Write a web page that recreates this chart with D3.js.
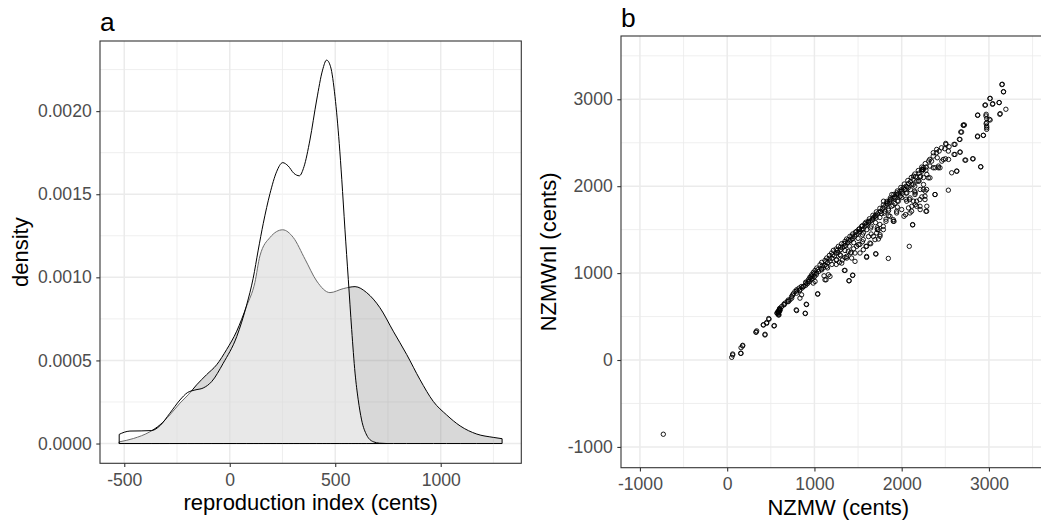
<!DOCTYPE html>
<html><head><meta charset="utf-8">
<script src="https://cdn.jsdelivr.net/npm/d3@7"></script>
<style>
body{margin:0;background:#fff;}
svg{display:block;}
text{font-family:"Liberation Sans",Arial,sans-serif;}
</style>
</head><body>
<svg id="c" width="1041" height="523"></svg>
<script>
// ---- Panel a: two density curves (reproduction index, cents / density) ----
const densityA = [
  [-524,0.000055],[-500,0.000068],[-473,0.000075],[-420,0.000076],[-370,0.000078],
  [-331,0.000107],[-284,0.000182],[-236,0.000262],[-201,0.000306],[-165,0.000322],
  [-126,0.000334],[-86,0.000372],[-31,0.000483],[33,0.000643],[80,0.000833],
  [111,0.000994],[135,0.001164],[159,0.001325],[191,0.001505],[222,0.001635],
  [251,0.00169],[277,0.00167],[304,0.001626],[330,0.001611],[352,0.001666],
  [380,0.001826],[412,0.002067],[440,0.002247],[459,0.002307],[478,0.002267],
  [499,0.002087],[519,0.001806],[531,0.00159],[546,0.00129],[562,0.000988],
  [578,0.000686],[594,0.000424],[609,0.000263],[625,0.000142],[649,0.000051],
  [680,0.000011],[710,0.000002],[744,0]
];
const densityB = [
  [-524,0.00001],[-457,0.00003],[-378,0.000071],[-331,0.000112],[-284,0.000172],
  [-236,0.000243],[-197,0.000293],[-157,0.000353],[-110,0.000414],[-62,0.000474],
  [-15,0.000565],[33,0.000676],[80,0.000827],[119,0.000968],[143,0.001129],
  [191,0.00124],[251,0.001286],[301,0.00124],[357,0.001109],[412,0.000978],
  [475,0.000908],[538,0.000932],[594,0.000944],[649,0.000908],[712,0.000817],
  [775,0.000676],[839,0.000535],[902,0.000384],[965,0.000253],[1028,0.000172],
  [1092,0.000106],[1171,0.000057],[1249,0.000037],[1291,0.000029]
];
const xTicksA = [-500,0,500,1000];
const xMinorA = [-250,250,750,1250];
const yTicksA = [0,0.0005,0.001,0.0015,0.002];
const yTickLabelsA = ["0.0000","0.0005","0.0010","0.0015","0.0020"];
const yMinorA = [0.00025,0.00075,0.00125,0.00175,0.00225];

// ---- Panel b: NZMW vs NZMWnl (cents) ----
const scatterPoints = [
  [-732,-854],
  [52,31],[63,69],[159,77],[159,142],[178,169],[63,58],[154,77],[177,162],
  [331,323],[338,335],[434,296],[415,404],[453,423],[476,477],[541,396],[330,319],[433,288],[414,404],[452,431],[479,469],[536,392],
  [587,519],[599,577],[652,635],[702,673],[740,712],[791,577],[894,538],[906,642],[795,769],[833,808],[872,846],[929,904],
  [986,885],[1038,762],[968,962],[1025,1000],[1083,1038],[1140,1077],[1121,923],[1178,962],
  [1351,1031],[1439,977],[1397,912],[1313,1115],[1370,1173],[1415,1231],[1465,1135],[1522,1231],[1598,1181],[1705,1219],
  [1847,1169],[1598,1308],[1636,1346],[1560,1385],[1503,1327],[1560,1462],[1713,1462],[1751,1423],[1732,1500],[1790,1500],
  [1705,1635],[1904,1596],[1942,1692],[2087,1308],[2125,1554],[2095,1692],[2045,1673],[2171,1769],[2209,1846],[2278,1711],
  [2267,1885],[2382,1904],[2535,1954],[2286,1962],[2324,2096],[2248,2192],[2362,2212],[2439,2212],[2573,2154],[2630,2173],
  [2477,2308],[2535,2404],[2611,2365],[2668,2392],[2507,2481],[2611,2481],[2668,2538],[2706,2700],[2687,2623],[2725,2300],
  [2813,2315],[2905,2223],[2870,2577],[2935,2585],[2870,2815],[2966,2808],[2974,2692],[3004,2769],[2954,2931],[3011,3008],
  [3041,2942],[3117,2962],[3125,2827],[3194,2885],[3148,3169],[3167,3085],[2974,2654],[2974,2731],
  [586,558],[598,577],[575,538],[605,596],[594,519],[624,615],[662,654],[689,673],[719,692],[738,731],[757,762],[777,788],
  [796,808],[823,827],[796,569],[896,535],[910,638],[853,750],[834,712],[903,885],[930,923],[949,954],[968,981],[987,1008],
  [1007,1031],[1026,1058],[1037,758],[1007,904],[1064,1096],[1083,1123],[1110,969],[1133,923],[1160,981],[1121,1146],
  [1140,1173],[1171,1204],[1197,1231],[1217,1262],[1255,1154],[1286,1123],[1343,1031],[1396,912],[1438,973],[1248,1277],
  [1274,1308],[1293,1212],[1312,1338],[1350,1365],[1369,1192],[1369,1392],[1388,1250],[1407,1423],[1426,1173],[1438,1450],
  [1465,1231],[1484,1481],[1484,1308],[1514,1508],[1541,1538],[1560,1269],[1591,1308],[1598,1192],[1645,1338],[1702,1223],
  [1579,1569],[1617,1596],[1645,1519],[1675,1423],[1694,1385],[1667,1623],[1694,1654],[1721,1500],[1752,1442],[1733,1392],
  [1770,1685],[1789,1538],[1808,1712],[1820,1596],[1847,1738],[1866,1654],[1885,1769],[1904,1615],[1912,1596],[1923,1800],
  [1942,1712],[1961,1827],[1981,1885],[2000,1731],[2011,1923],[2026,1654],[2038,1962],[2057,1827],[2076,1981],[2095,1865],
  [2114,1712],[2126,1558],[2133,2019],[2152,1904],[2171,1827],[2191,2058],[2210,1769],[2217,2115],[2229,2192],[2248,1962],
  [2267,1846],[2286,1712],[2278,2185],[2305,2096],[2324,2231],[2343,2288],[2362,2385],[2382,1904],[2401,2423],[2420,2212],[2408,2327],
  [3153,3173],[3167,3088],[3014,3011],[2960,2935],[3044,2950],[3117,2962],[2872,2819],[2968,2827],[3014,2762],[2975,2777],
  [2968,2719],[2975,2673],[3129,2835],[2869,2569],[2937,2585],[2707,2704],[2719,2704],[2677,2623],[2661,2539],[2600,2481],
  [2543,2454],[2505,2492],[2494,2431],[2456,2442],[2429,2404],[2399,2385],[2361,2346],[2322,2308],[2670,2392],[2600,2365],
  [2537,2308],[2502,2315],[2460,2288],[2421,2231],[2383,2212],[2734,2300],[2819,2315],[2907,2223],[2632,2173],
  [2250,2212],[2231,2173],[2288,2135],[2212,2108],[2136,2115],[2174,2058],[2116,2019],[2059,1992],[2250,2019],[2212,1962],
  [2269,1942],[2155,1923],[2231,1877],[2059,1923],[2002,1942],[1983,1885],[1944,1923],[1925,1865],[1887,1904],[1868,1846],
  [1830,1808],[1792,1827],[2088,1846],[2136,1827],[2116,1769],[2078,1750],[2155,1788],[2288,1769],[2212,1731],
  [1050,1020],[1080,1050],[1100,1060],[1120,1090],[1150,1120],[1180,1140],[1200,1170],[1230,1200],[1250,1230],[1270,1240],
  [1300,1270],[1320,1290],[1340,1310],[1360,1320],[1380,1350],[1400,1370],[1420,1380],[1440,1400],[1460,1420],[1480,1440],
  [1500,1460],[1520,1480],[1540,1500],[1560,1510],[1580,1540],[1600,1560],[1620,1580],[1640,1600],[1660,1610],[1680,1640],
  [1700,1660],[1720,1680],[1740,1700],[1760,1710],[1780,1740],[1800,1760],[1820,1780],[1840,1800],[1860,1820],[1880,1840],
  [1900,1860],[1920,1880],[1940,1900],[1960,1910],[1980,1940],[2000,1960],[2020,1980],[2050,2000],[2080,2030],[2100,2050],
  [2130,2080],[2160,2110],[2200,2150],[2240,2190],[2280,2220],
  [1150,1060],[1200,1100],[1250,1150],[1300,1200],[1350,1260],[1400,1310],[1450,1350],[1500,1400],[1550,1440],[1600,1500],
  [1650,1540],[1700,1580],[1750,1640],[1800,1690],[1850,1720],[1900,1780],[1950,1830],[2000,1870],[2050,1920],[2100,1960],
  [2150,2000],[2200,2060],[2250,2100],
  [1250,1100],[1350,1180],[1450,1280],[1550,1360],[1650,1450],[1750,1560],[1850,1660],[1950,1760],[2050,1850],[2150,1940],
  [1320,1150],[1420,1240],[1520,1330],[1620,1420],[1720,1520],[1820,1620],
  [600,590],[650,640],[700,690],[750,745],[800,795],[850,845],[900,895],[950,945],[1000,995],[1040,1040],[1090,1085],
  [1130,1130],[1170,1170],[1210,1210],[1260,1260],[1300,1300],[1340,1340],[1390,1385],[1430,1425],[1470,1470],[1510,1505],
  [1550,1545],[1590,1585],[1630,1625],[1670,1665],[1710,1705],[1750,1745],[1790,1785],[1830,1825],[1870,1865],[1910,1905],
  [1950,1945],[1990,1985],[2030,2025],[2070,2065],[2110,2100],[2150,2140],[2190,2180],[2230,2220],[2270,2260],[2310,2290],
  [830,800],[860,830],[880,850],[900,860],[920,880],[940,900],[960,930],[980,940],[1000,960],[1020,980],
  [570,540],[580,555],[590,545],[600,560],[610,580],[585,530],[595,570]
];
const xTicksB = [-1000,0,1000,2000,3000];
const xMinorB = [-500,500,1500,2500,3500];
const yTicksB = [-1000,0,1000,2000,3000];
const yMinorB = [-500,500,1500,2500,3500];

const svg = d3.select("#c");
const GRID = "#ebebeb", BORDER = "#333333", TICKTXT = "#4d4d4d";

function gridlines(g, xs, ys, xMaj, xMin, yMaj, yMin){
  const [x0,x1] = xs.range(), [y0,y1] = ys.range();
  const add = (vals, w, vert) => g.selectAll(null).data(vals).enter().append("line")
      .attr("x1", d => vert ? xs(d) : x0).attr("x2", d => vert ? xs(d) : x1)
      .attr("y1", d => vert ? y0 : ys(d)).attr("y2", d => vert ? y1 : ys(d))
      .attr("stroke", GRID).attr("stroke-width", w);
  add(xMin, 0.8, true); add(yMin, 0.8, false);
  add(xMaj, 1.5, true); add(yMaj, 1.5, false);
}
function styleAxis(sel){
  sel.select(".domain").remove();
  sel.selectAll(".tick line").attr("stroke", BORDER).attr("stroke-width", 1.1);
  sel.selectAll(".tick text").attr("fill", TICKTXT).attr("font-size", "17.6px")
     .attr("font-family", '"Liberation Sans", Arial, sans-serif');
}

// ===== Panel a =====
const xA = d3.scaleLinear().domain([-615, 1382]).range([100, 521.3]);
const yA = d3.scaleLinear().domain([-0.000119, 0.002422]).range([463.3, 41]);
const gA = svg.append("g");
gridlines(gA, xA, yA, xTicksA, xMinorA, yTicksA, yMinorA);

const areaA = d3.area().x(d => xA(d[0])).y0(yA(0)).y1(d => yA(d[1])).curve(d3.curveMonotoneX);
gA.append("path").datum(densityB).attr("d", areaA)
  .attr("fill", "#7f7f7f").attr("fill-opacity", 0.3)
  .attr("stroke", "#000").attr("stroke-width", 1).attr("stroke-linejoin", "round");
gA.append("path").datum(densityA).attr("d", areaA)
  .attr("fill", "#ffffff").attr("fill-opacity", 0.42)
  .attr("stroke", "#000").attr("stroke-width", 1).attr("stroke-linejoin", "round");

gA.append("rect").attr("x", 100).attr("y", 41).attr("width", 421.3).attr("height", 422.3)
  .attr("fill", "none").attr("stroke", BORDER).attr("stroke-width", 1.1);

gA.append("g").attr("transform", "translate(0,463.3)")
  .call(d3.axisBottom(xA).tickValues(xTicksA).tickSize(3.7).tickPadding(6.3).tickFormat(d3.format("d")))
  .call(styleAxis);
gA.append("g").attr("transform", "translate(100,0)")
  .call(d3.axisLeft(yA).tickValues(yTicksA).tickSize(3.7).tickPadding(4.6)
        .tickFormat((d,i) => yTickLabelsA[i]))
  .call(styleAxis);

gA.append("text").attr("x", 310.7).attr("y", 509.5).attr("text-anchor", "middle")
  .attr("font-size", "22px").attr("fill", "#000").text("reproduction index (cents)");
gA.append("text").attr("transform", "translate(28,252.2) rotate(-90)").attr("text-anchor", "middle")
  .attr("font-size", "22px").attr("fill", "#000").text("density");
gA.append("text").attr("x", 100).attr("y", 31).attr("font-size", "26.4px").attr("fill", "#000").text("a");

// ===== Panel b =====
const xB = d3.scaleLinear().domain([-1217, 3764]).range([621, 1055.6]);
const yB = d3.scaleLinear().domain([-1239, 3728]).range([467.7, 36]);
const gB = svg.append("g");
gridlines(gB, xB, yB, xTicksB, xMinorB, yTicksB, yMinorB);

gB.append("g").selectAll("circle").data(scatterPoints).enter().append("circle")
  .attr("cx", d => xB(d[0])).attr("cy", d => yB(d[1])).attr("r", 2.2)
  .attr("fill", "none").attr("stroke", "#000").attr("stroke-width", 0.9);

gB.append("rect").attr("x", 621).attr("y", 36).attr("width", 434.6).attr("height", 431.7)
  .attr("fill", "none").attr("stroke", BORDER).attr("stroke-width", 1.1);

gB.append("g").attr("transform", "translate(0,467.7)")
  .call(d3.axisBottom(xB).tickValues(xTicksB).tickSize(3.7).tickPadding(6.3).tickFormat(d3.format("d")))
  .call(styleAxis);
gB.append("g").attr("transform", "translate(621,0)")
  .call(d3.axisLeft(yB).tickValues(yTicksB).tickSize(3.7).tickPadding(4.6).tickFormat(d3.format("d")))
  .call(styleAxis);

gB.append("text").attr("x", 838.3).attr("y", 514.5).attr("text-anchor", "middle")
  .attr("font-size", "22px").attr("fill", "#000").text("NZMW (cents)");
gB.append("text").attr("transform", "translate(556,251.9) rotate(-90)").attr("text-anchor", "middle")
  .attr("font-size", "22px").attr("fill", "#000").text("NZMWnl (cents)");
gB.append("text").attr("x", 621).attr("y", 26.7).attr("font-size", "26.4px").attr("fill", "#000").text("b");

// ggplot-style hyphen minus for negative tick labels
svg.selectAll(".tick text").each(function(){ const t = d3.select(this); t.text(t.text().replace("\u2212","-")); });
</script>
</body></html>
